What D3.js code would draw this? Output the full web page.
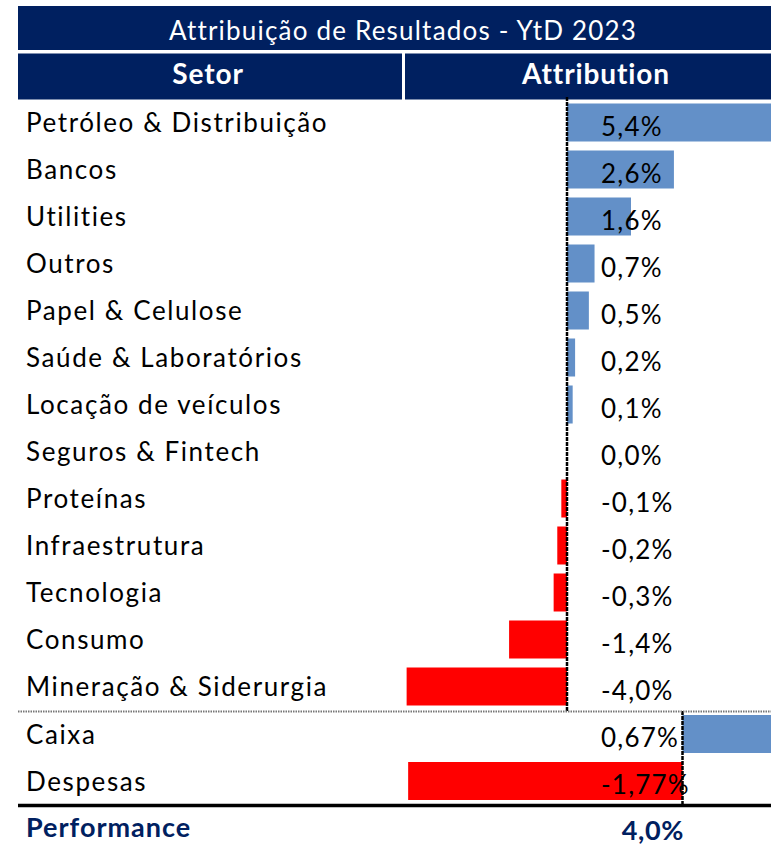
<!DOCTYPE html>
<html>
<head>
<meta charset="utf-8">
<script src="https://cdn.jsdelivr.net/npm/d3@7"></script>
<style>
  body { margin: 0; background: #fff; }
  text { font-family: Lato, "Open Sans", sans-serif; }
</style>
</head>
<body>
<div id="chart"></div>
<script>
var svgWidth = 771;
var svgHeight = 847;

// sector attribution (%), YtD 2023
var sectors = ["Petróleo & Distribuição", "Bancos", "Utilities", "Outros", "Papel & Celulose",
  "Saúde & Laboratórios", "Locação de veículos", "Seguros & Fintech", "Proteínas",
  "Infraestrutura", "Tecnologia", "Consumo", "Mineração & Siderurgia"];
var sectorValues = [5.4, 2.64, 1.58, 0.68, 0.54, 0.2, 0.14, 0.0, -0.14, -0.24, -0.33, -1.43, -3.96];

var otherItems = ["Caixa", "Despesas"];
var otherValues = [0.67, -1.77];

var performanceLabel = "Performance";
var performanceValue = 4.0;

var navy = "#002060";
var blue = "#6390c8";
var red = "#ff0000";

var fmt1 = d3.format(".1f");
var fmt2 = d3.format(".2f");
function pct(f, v) {
  return f(v).replace("−", "-").replace(".", ",") + "%";
}

var svg = d3.select("#chart")
  .append("svg")
  .attr("width", svgWidth)
  .attr("height", svgHeight);

// title + header cells
svg.append("rect")
  .attr("x", 18).attr("y", 6)
  .attr("width", 767).attr("height", 44)
  .attr("fill", navy);
svg.append("text")
  .attr("x", 403).attr("y", 40)
  .attr("text-anchor", "middle")
  .attr("fill", "#fff")
  .style("font-size", "26px")
  .style("letter-spacing", "1.2px")
  .text("Attribuição de Resultados - YtD 2023");

svg.append("rect")
  .attr("x", 18).attr("y", 53.5)
  .attr("width", 384).attr("height", 46)
  .attr("fill", navy);
svg.append("rect")
  .attr("x", 405).attr("y", 53.5)
  .attr("width", 380).attr("height", 46)
  .attr("fill", navy);
svg.append("text")
  .attr("x", 208).attr("y", 84)
  .attr("text-anchor", "middle")
  .attr("fill", "#fff")
  .style("font-size", "28px")
  .style("font-weight", "bold")
  .style("letter-spacing", "0.9px")
  .text("Setor");
svg.append("text")
  .attr("x", 596).attr("y", 84)
  .attr("text-anchor", "middle")
  .attr("fill", "#fff")
  .style("font-size", "28px")
  .style("font-weight", "bold")
  .style("letter-spacing", "0.9px")
  .text("Attribution");

// scales
var step = 47;
var pad = 9 / step;

var yTop = d3.scaleBand()
  .domain(sectors)
  .range([99, 99 + sectors.length * step])
  .paddingInner(pad)
  .paddingOuter(pad / 2);

var yBottom = d3.scaleBand()
  .domain(otherItems)
  .range([710.5, 710.5 + otherItems.length * step])
  .paddingInner(pad)
  .paddingOuter(pad / 2);

var kTop = 40.5;
var xTop = d3.scaleLinear()
  .domain([0, 1])
  .range([567, 567 + kTop]);

var kBottom = 155;
var xBottom = d3.scaleLinear()
  .domain([0, 1])
  .range([682.5, 682.5 + kBottom]);

var topData = sectors.map(function(s, i) { return { name: s, value: sectorValues[i] }; });
var bottomData = otherItems.map(function(s, i) { return { name: s, value: otherValues[i] }; });

function drawSection(data, y, x, f) {
  var g = svg.append("g");

  g.selectAll("rect")
    .data(data)
    .enter()
    .append("rect")
    .attr("x", d => Math.min(x(0), x(d.value)))
    .attr("y", d => y(d.name))
    .attr("width", d => Math.abs(x(d.value) - x(0)))
    .attr("height", y.bandwidth())
    .attr("fill", d => d.value >= 0 ? blue : red);

  g.selectAll(".rowLabel")
    .data(data)
    .enter()
    .append("text")
    .attr("class", "rowLabel")
    .attr("x", 26)
    .attr("y", d => y(d.name) + y.bandwidth() / 2 + 9.5)
    .attr("fill", "#000")
    .style("font-size", "26px")
    .style("letter-spacing", "1.6px")
    .text(d => d.name);

  g.selectAll(".valLabel")
    .data(data)
    .enter()
    .append("text")
    .attr("class", "valLabel")
    .attr("x", 601)
    .attr("y", d => y(d.name) + y.bandwidth() / 2 + 13)
    .attr("fill", "#000")
    .style("font-size", "26px")
    .style("letter-spacing", "1.2px")
    .text(d => pct(f, d.value));

  return g;
}

drawSection(topData, yTop, xTop, fmt1);
drawSection(bottomData, yBottom, xBottom, fmt2);

// zero lines (dashed)
svg.append("line")
  .attr("x1", xTop(0)).attr("x2", xTop(0))
  .attr("y1", 97).attr("y2", 711)
  .attr("stroke", "#000")
  .attr("stroke-width", 2.5)
  .attr("stroke-dasharray", "4,1");
svg.append("line")
  .attr("x1", xBottom(0)).attr("x2", xBottom(0))
  .attr("y1", 711).attr("y2", 805)
  .attr("stroke", "#000")
  .attr("stroke-width", 2.5)
  .attr("stroke-dasharray", "4,1");

// separators
svg.append("line")
  .attr("x1", 18).attr("x2", 771)
  .attr("y1", 711.5).attr("y2", 711.5)
  .attr("stroke", "#777")
  .attr("stroke-width", 2)
  .attr("stroke-dasharray", "1.5,1");
svg.append("line")
  .attr("x1", 18).attr("x2", 771)
  .attr("y1", 805.5).attr("y2", 805.5)
  .attr("stroke", "#000")
  .attr("stroke-width", 3.5);

// performance row
svg.append("text")
  .attr("x", 26).attr("y", 837)
  .attr("fill", navy)
  .style("font-size", "27px")
  .style("font-weight", "bold")
  .style("letter-spacing", "1px")
  .text(performanceLabel);
svg.append("text")
  .attr("x", 684).attr("y", 840)
  .attr("text-anchor", "end")
  .attr("fill", navy)
  .style("font-size", "27px")
  .style("font-weight", "bold")
  .style("letter-spacing", "0.6px")
  .text(pct(fmt1, performanceValue));
</script>
</body>
</html>
